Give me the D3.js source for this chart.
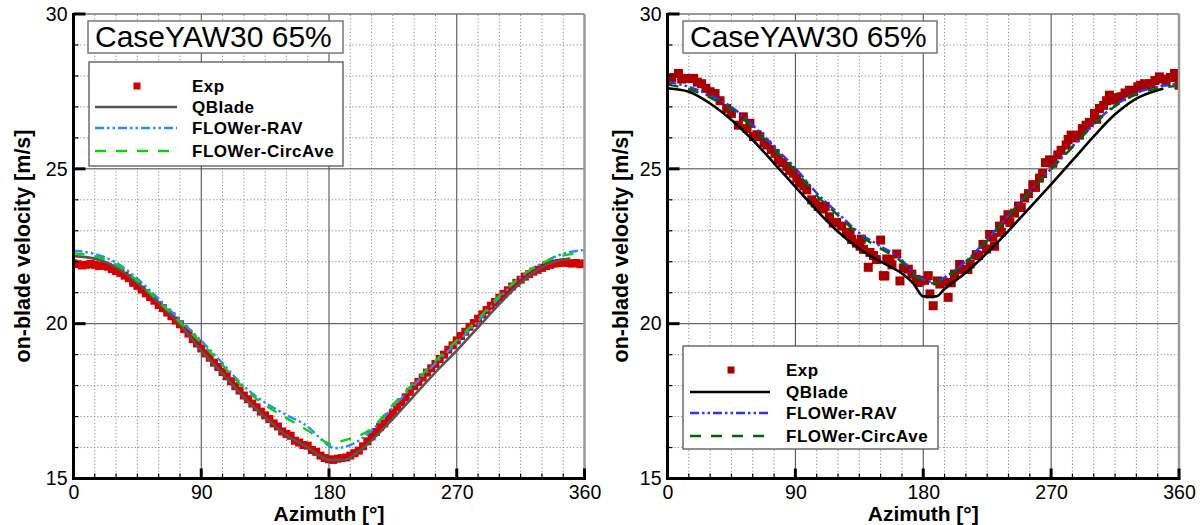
<!DOCTYPE html>
<html>
<head>
<meta charset="utf-8">
<script src="https://cdn.jsdelivr.net/npm/d3@7"></script>
<style>
  body { margin: 0; background: #fff; }
  text { font-family: "Liberation Sans", Arial, Helvetica, sans-serif; }
</style>
</head>
<body>
<svg id="chart" width="1200" height="525"></svg>
<script>
// ---- data ----
const titleText = 'CaseYAW30 65%'
const seriesNames = ['Exp', 'QBlade', 'FLOWer-RAV', 'FLOWer-CircAve']
const xTicks = [0, 90, 180, 270, 360]
const yTicks = [15, 20, 25, 30]

// left panel
const leftExpAz = d3.range(0, 361, 3)
const leftExpV = [21.95, 21.92, 21.88, 21.9, 21.93, 21.9, 21.86, 21.88, 21.84, 21.76,
  21.7, 21.64, 21.55, 21.47, 21.32, 21.22, 21.1, 20.98, 20.86, 20.74,
  20.6, 20.5, 20.36, 20.24, 20.1, 19.98, 19.82, 19.68, 19.5, 19.36,
  19.2, 19.04, 18.9, 18.74, 18.6, 18.44, 18.3, 18.14, 17.98, 17.84,
  17.68, 17.56, 17.42, 17.3, 17.16, 17.04, 16.92, 16.78, 16.68, 16.52,
  16.44, 16.38, 16.22, 16.16, 16.08, 16.06, 15.92, 15.86, 15.74, 15.66,
  15.62, 15.6, 15.64, 15.66, 15.68, 15.74, 15.82, 15.9, 16.04, 16.2,
  16.36, 16.5, 16.66, 16.78, 16.98, 17.12, 17.3, 17.46, 17.62, 17.8,
  17.98, 18.12, 18.26, 18.42, 18.56, 18.7, 18.86, 19.0, 19.16, 19.3,
  19.46, 19.6, 19.74, 19.9, 20.02, 20.16, 20.3, 20.44, 20.58, 20.7,
  20.84, 20.96, 21.08, 21.2, 21.32, 21.42, 21.52, 21.6, 21.68, 21.74,
  21.8, 21.86, 21.9, 21.94, 21.96, 21.98, 21.96, 21.94, 21.96, 21.92, 21.95]
const leftQbAz = [0, 15, 30, 45, 60, 75, 90, 105, 120, 135, 150, 165, 172, 180, 191, 200, 210, 225, 240, 255, 270, 285, 300, 315, 330, 345, 350]
const leftQbV = [22.18, 22.1, 21.82, 21.32, 20.68, 19.98, 19.13, 18.38, 17.63, 16.98, 16.4, 16.0, 15.78, 15.6, 15.6, 15.85, 16.23, 16.93, 17.68, 18.43, 19.13, 19.88, 20.63, 21.32, 21.82, 22.07, 22.1]
const leftRavAz = [0, 15, 30, 45, 60, 75, 90, 105, 120, 135, 150, 165, 175, 184, 195, 210, 225, 240, 255, 270, 285, 300, 315, 330, 345, 360]
const leftRavV = [22.36, 22.25, 21.97, 21.45, 20.8, 20.12, 19.45, 18.72, 17.98, 17.45, 17.05, 16.68, 16.25, 15.98, 16.08, 16.55, 17.3, 18.02, 18.72, 19.38, 20.08, 20.84, 21.5, 21.95, 22.26, 22.38]
const leftCircAz = [0, 15, 30, 45, 60, 75, 90, 105, 120, 135, 150, 165, 175, 181, 190, 210, 225, 240, 255, 270, 285, 300, 315, 330, 345, 360]
const leftCircV = [22.27, 22.18, 21.9, 21.38, 20.72, 20.05, 19.38, 18.66, 17.92, 17.37, 16.95, 16.55, 16.25, 16.12, 16.22, 16.62, 17.38, 18.1, 18.8, 19.46, 20.15, 20.9, 21.52, 21.95, 22.2, 22.28]

// right panel
const rightExpAz = [0, 3, 7.7, 10, 13.6, 18.3, 21, 24, 27, 30, 33.5, 37, 41.7, 45, 49.9, 53.4, 56, 58, 60.5, 63,
  65, 68, 70, 73, 75.7, 78, 81, 84, 86, 88.6, 91, 93, 96, 98, 101.5, 104, 106, 109.7, 111, 114,
  116.7, 119, 122.6, 126, 128.5, 129.6, 133, 135.5, 136.4, 138, 141.3, 142.5, 145, 147, 150, 151.9, 153, 154.3, 156.5, 158,
  161.3, 163.6, 166, 169.5, 172, 175, 176.5, 178, 181, 183.5, 184.7, 187, 190, 191.7, 194, 197.5, 198.8, 199.7, 202, 205.6,
  208, 211.4, 213, 217.3, 219, 222, 224.6, 226.7, 229, 230.2, 233.7, 235, 237, 239.6, 241, 244.3, 247, 249, 251.3, 254,
  257.1, 259, 261.8, 264, 266, 268.9, 271.2, 274.7, 277, 280.6, 282, 284.1, 287, 290, 292, 294.6, 297, 300.5, 302, 304,
  307, 309, 311, 314.6, 317, 319.3, 322, 325.1, 328, 331, 333, 335.7, 338, 340.3, 343, 346.2, 349, 350.9, 354, 356.8, 358, 360]
const rightExpV = [27.86, 27.95, 28.08, 27.9, 27.92, 27.92, 27.8, 27.75, 27.6, 27.49, 27.43, 27.2, 26.95, 26.79, 26.41, 26.68, 26.3, 26.47, 26.04, 26.1,
  26.04, 25.85, 25.77, 25.62, 25.5, 25.29, 25.2, 25.08, 24.95, 24.86, 24.7, 24.54, 24.45, 24.32, 24.0, 23.9, 23.79, 23.7, 23.79, 23.45,
  23.25, 23.27, 23.15, 22.93, 22.95, 22.72, 22.6, 22.5, 22.73, 22.4, 21.82, 22.3, 22.2, 22.07, 22.7, 21.55, 21.54, 22.09, 22.07, 21.9,
  22.25, 21.38, 21.8, 21.76, 21.6, 21.43, 21.33, 21.38, 21.4, 21.55, 20.96, 20.58, 21.38, 21.28, 21.35, 20.85, 21.33, 21.32, 21.6, 21.91,
  21.75, 21.75, 21.93, 22.23, 22.2, 22.56, 22.41, 22.88, 22.79, 22.5, 23.15, 22.95, 23.35, 23.52, 23.27, 23.57, 23.8, 23.75, 24.06, 24.2,
  24.49, 24.4, 24.7, 24.85, 25.2, 25.29, 25.18, 25.45, 25.6, 25.77, 25.95, 26.09, 26.0, 26.09, 26.3, 26.41, 26.5, 26.79, 26.6, 26.95,
  27.05, 27.2, 27.38, 27.22, 27.3, 27.33, 27.45, 27.54, 27.5, 27.65, 27.7, 27.75, 27.7, 27.75, 27.85, 27.97, 27.9, 27.81, 27.95, 28.08, 27.95, 27.7]
const rightQbAz = [0, 15, 30, 45, 60, 75, 90, 105, 120, 135, 150, 165, 173, 180, 189, 195, 210, 225, 240, 255, 270, 285, 300, 315, 330, 345, 349]
const rightQbV = [27.6, 27.49, 27.11, 26.58, 25.93, 25.18, 24.42, 23.66, 22.97, 22.42, 22.0, 21.62, 21.3, 20.88, 20.88, 21.12, 21.65, 22.29, 23.0, 23.75, 24.5, 25.27, 26.05, 26.76, 27.27, 27.54, 27.59]
const rightRavAz = [0, 15, 30, 45, 60, 75, 90, 105, 120, 135, 150, 165, 172, 180, 188, 195, 210, 225, 240, 255, 270, 285, 300, 315, 330, 345, 360]
const rightRavV = [27.81, 27.65, 27.38, 27.0, 26.41, 25.72, 25.02, 24.22, 23.57, 22.93, 22.5, 22.05, 21.68, 21.43, 21.34, 21.5, 22.02, 22.72, 23.5, 24.27, 25.0, 25.72, 26.45, 27.05, 27.45, 27.65, 27.75]
const rightCircAz = [0, 15, 30, 45, 60, 75, 90, 105, 120, 135, 150, 165, 172, 180, 188, 195, 210, 225, 240, 255, 270, 285, 300, 315, 330, 345, 360]
const rightCircV = [27.72, 27.57, 27.3, 26.92, 26.33, 25.64, 24.94, 24.14, 23.5, 22.86, 22.43, 21.98, 21.62, 21.38, 21.3, 21.46, 21.98, 22.68, 23.47, 24.25, 24.98, 25.7, 26.42, 27.02, 27.4, 27.6, 27.68]

const svg = d3.select('#chart')
const zip = (a, b) => a.map((d, i) => [d, b[i]])

function drawPanel(p) {
  const x = d3.scaleLinear().domain([0, 360]).range([p.x0, p.x1])
  const y = d3.scaleLinear().domain([15, 30]).range([478.5, 14])
  const g = svg.append('g')

  const xMinor = d3.range(15, 360, 15).filter(d => d % 90)
  const yMinor = d3.range(16, 30).filter(d => d % 5)

  // dotted minor grid
  g.append('g').selectAll('line').data(xMinor).join('line')
    .attr('x1', d => x(d)).attr('x2', d => x(d)).attr('y1', y(15)).attr('y2', y(30))
    .attr('stroke', '#8a8a8a').attr('stroke-dasharray', '1.2,2.2')
  g.append('g').selectAll('line').data(yMinor).join('line')
    .attr('y1', d => y(d)).attr('y2', d => y(d)).attr('x1', x(0)).attr('x2', x(360))
    .attr('stroke', '#8a8a8a').attr('stroke-dasharray', '1.2,2.2')
  // solid major grid
  g.append('g').selectAll('line').data([90, 180, 270]).join('line')
    .attr('x1', d => x(d)).attr('x2', d => x(d)).attr('y1', y(15)).attr('y2', y(30))
    .attr('stroke', '#444').attr('stroke-width', 1)
  g.append('g').selectAll('line').data([20, 25]).join('line')
    .attr('y1', d => y(d)).attr('y2', d => y(d)).attr('x1', x(0)).attr('x2', x(360))
    .attr('stroke', '#444').attr('stroke-width', 1)

  // data
  const clipId = 'clip' + p.id
  svg.append('clipPath').attr('id', clipId).append('rect')
    .attr('x', x(0)).attr('y', y(30)).attr('width', x(360) - x(0)).attr('height', y(15) - y(30))
  const data = g.append('g').attr('clip-path', `url(#${clipId})`)
  const ms = p.markerSize
  data.append('g').selectAll('rect').data(zip(p.expAz, p.expV)).join('rect')
    .attr('x', d => x(d[0]) - ms / 2).attr('y', d => y(d[1]) - ms / 2)
    .attr('width', ms).attr('height', ms).attr('fill', p.colors[0])

  const line = d3.line().x(d => x(d[0])).y(d => y(d[1])).curve(d3.curveMonotoneX)
  const lines = [
    { pts: zip(p.qbAz, p.qbV), c: p.colors[1], w: 2.6, dash: null },
    { pts: zip(p.ravAz, p.ravV), c: p.colors[2], w: 2.4, dash: '9,3,2.5,3,2.5,3' },
    { pts: zip(p.circAz, p.circV), c: p.colors[3], w: 2.4, dash: '11,10' }
  ]
  data.append('g').selectAll('path').data(lines).join('path')
    .attr('d', d => line(d.pts)).attr('fill', 'none')
    .attr('stroke', d => d.c).attr('stroke-width', d => d.w)
    .attr('stroke-dasharray', d => d.dash)

  // frame: top/right grey, left/bottom black
  g.append('line').attr('x1', x(0)).attr('x2', x(360)).attr('y1', y(30)).attr('y2', y(30))
    .attr('stroke', '#777').attr('stroke-width', 1.5)
  g.append('line').attr('x1', x(360)).attr('x2', x(360)).attr('y1', y(30)).attr('y2', y(15))
    .attr('stroke', '#999').attr('stroke-width', 2.5)
  g.append('line').attr('x1', x(0)).attr('x2', x(0)).attr('y1', y(30) - 1).attr('y2', y(15) + 1.5)
    .attr('stroke', '#000').attr('stroke-width', 3)
  g.append('line').attr('x1', x(0) - 1.5).attr('x2', x(360) + 1.5).attr('y1', y(15)).attr('y2', y(15))
    .attr('stroke', '#000').attr('stroke-width', 3)

  // tick marks (inward)
  g.append('g').selectAll('line').data(yTicks).join('line')
    .attr('x1', x(0)).attr('x2', x(0) + 12).attr('y1', d => y(d)).attr('y2', d => y(d))
    .attr('stroke', '#000').attr('stroke-width', 3)
  g.append('g').selectAll('line').data(yMinor).join('line')
    .attr('x1', x(0)).attr('x2', x(0) + 5).attr('y1', d => y(d)).attr('y2', d => y(d))
    .attr('stroke', '#000').attr('stroke-width', 1.2)
  g.append('g').selectAll('line').data(xTicks).join('line')
    .attr('x1', d => x(d)).attr('x2', d => x(d)).attr('y1', y(15)).attr('y2', y(15) - 10)
    .attr('stroke', '#000').attr('stroke-width', 3)
  g.append('g').selectAll('line').data(xMinor).join('line')
    .attr('x1', d => x(d)).attr('x2', d => x(d)).attr('y1', y(15)).attr('y2', y(15) - 5)
    .attr('stroke', '#000').attr('stroke-width', 1.2)

  // tick labels through d3 axes
  const xAxis = g.append('g').attr('transform', `translate(0,${y(15)})`)
    .call(d3.axisBottom(x).tickValues(xTicks).tickSize(0).tickPadding(7))
  const yAxis = g.append('g').attr('transform', `translate(${x(0)},0)`)
    .call(d3.axisLeft(y).tickValues(yTicks).tickSize(0).tickPadding(6))
  for (const a of [xAxis, yAxis]) {
    a.select('.domain').remove()
    a.selectAll('text').attr('font-size', 19.5).attr('fill', '#000')
      .attr('font-family', '"Liberation Sans", Arial, sans-serif')
  }

  // axis titles
  g.append('text').attr('x', (x(0) + x(360)) / 2).attr('y', 520.5)
    .attr('text-anchor', 'middle').attr('font-size', 21).attr('font-weight', 'bold')
    .text('Azimuth [°]')
  g.append('text').attr('transform', `translate(${p.yTitleX},246) rotate(-90)`)
    .attr('text-anchor', 'middle').attr('font-size', 21.5).attr('font-weight', 'bold')
    .text('on-blade velocity [m/s]')

  // title box
  g.append('rect').attr('x', p.title[0]).attr('y', 21).attr('width', p.title[1]).attr('height', 32)
    .attr('fill', '#fff').attr('stroke', '#777').attr('stroke-width', 1.5)
  g.append('text').attr('x', p.title[0] + 7).attr('y', 47).attr('font-size', 30)
    .attr('fill', '#000').text(titleText)

  // legend
  const L = p.legend
  g.append('rect').attr('x', L.x).attr('y', L.y).attr('width', L.w).attr('height', L.h)
    .attr('fill', '#fff').attr('stroke', '#555').attr('stroke-width', 1.3)
  const items = g.append('g').selectAll('g').data(seriesNames).join('g')
    .attr('transform', (d, i) => `translate(0,${L.rows[i]})`)
  items.append('text').attr('x', L.textX).attr('y', 5.5).attr('font-size', 17)
    .attr('font-weight', 'bold').attr('letter-spacing', 0.5).text(d => d)
  items.filter((d, i) => i === 0).append('rect')
    .attr('x', L.markX - 3.5).attr('y', -3.5).attr('width', 7).attr('height', 7).attr('fill', p.colors[0])
  items.filter((d, i) => i > 0).append('line')
    .attr('x1', L.lineX[0]).attr('x2', L.lineX[1]).attr('y1', 0).attr('y2', 0)
    .attr('stroke', (d, i) => lines[i].c).attr('stroke-width', (d, i) => lines[i].w)
    .attr('stroke-dasharray', (d, i) => lines[i].dash)
}

drawPanel({
  id: 'L', x0: 73.5, x1: 584.5, yTitleX: 30, markerSize: 8,
  colors: ['#d60000', '#555555', '#1e90ff', '#12cc12'],
  expAz: leftExpAz, expV: leftExpV, qbAz: leftQbAz, qbV: leftQbV,
  ravAz: leftRavAz, ravV: leftRavV, circAz: leftCircAz, circV: leftCircV,
  title: [88, 255],
  legend: { x: 89, y: 62, w: 254, h: 104, rows: [86, 107, 128, 151], textX: 192, markX: 137, lineX: [95, 177] }
})
drawPanel({
  id: 'R', x0: 667.5, x1: 1179, yTitleX: 628, markerSize: 9,
  colors: ['#a80000', '#000000', '#3030ff', '#006400'],
  expAz: rightExpAz, expV: rightExpV, qbAz: rightQbAz, qbV: rightQbV,
  ravAz: rightRavAz, ravV: rightRavV, circAz: rightCircAz, circV: rightCircV,
  title: [683, 254],
  legend: { x: 683, y: 346, w: 255, h: 103, rows: [370, 392, 413, 436], textX: 786, markX: 731, lineX: [690, 770] }
})
</script>
</body>
</html>
